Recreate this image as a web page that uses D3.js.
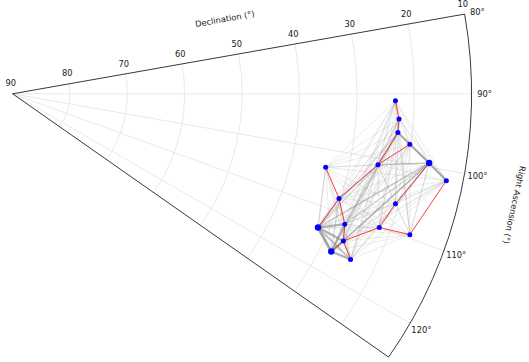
<!DOCTYPE html>
<html>
<head>
<meta charset="utf-8">
<script src="https://cdn.jsdelivr.net/npm/d3@7"></script>
<style>
  html, body { margin: 0; padding: 0; background: #fff; }
  svg { display: block; }
  text { font-family: "DejaVu Sans", sans-serif; fill: #1a1a1a; }
</style>
</head>
<body>
<svg id="chart" width="529" height="362"></svg>
<script>
// Gemini stars: right ascension and declination in degrees
const starNames = ["1 Gem", "Propus", "Tejat", "nu Gem", "Alhena", "Mebsuta", "Alzirr",
  "theta Gem", "tau Gem", "Mekbuda", "Castor", "iota Gem", "Wasat", "upsilon Gem",
  "Pollux", "kappa Gem", "lambda Gem"];
const starRA = [91.03, 93.72, 95.74, 97.24, 99.43, 100.98, 101.32,
  103.20, 107.78, 106.03, 113.65, 111.43, 110.03, 113.98, 116.33, 116.11, 109.52];
const starDec = [23.26, 22.51, 22.51, 20.21, 16.40, 25.13, 12.90,
  33.96, 30.25, 20.57, 31.89, 27.80, 21.98, 26.90, 28.03, 24.40, 16.54];
const starBig = ["Alhena", "Castor", "Pollux"];

// Constellation figure (red)
const figureLines = [
  ["1 Gem", "Propus"], ["Propus", "Tejat"], ["Tejat", "Mebsuta"], ["nu Gem", "Mebsuta"],
  ["Mebsuta", "tau Gem"], ["theta Gem", "tau Gem"], ["tau Gem", "Castor"],
  ["tau Gem", "iota Gem"], ["iota Gem", "upsilon Gem"], ["upsilon Gem", "Pollux"],
  ["upsilon Gem", "kappa Gem"], ["upsilon Gem", "Wasat"], ["Wasat", "Mekbuda"],
  ["Mekbuda", "Alhena"], ["Wasat", "lambda Gem"], ["lambda Gem", "Alzirr"]
];

// Weighted links between stars (grey); any pair not listed gets the base weight
const linkPairs = [
  ["Tejat", "nu Gem"], ["nu Gem", "Alhena"], ["Tejat", "Alhena"], ["Alhena", "Alzirr"],
  ["Alhena", "Mebsuta"], ["Propus", "Tejat"], ["1 Gem", "Propus"], ["Tejat", "Mebsuta"],
  ["Mebsuta", "tau Gem"], ["Castor", "Pollux"], ["Castor", "iota Gem"], ["Castor", "upsilon Gem"],
  ["Castor", "kappa Gem"], ["Pollux", "upsilon Gem"], ["Pollux", "kappa Gem"], ["Pollux", "iota Gem"],
  ["iota Gem", "upsilon Gem"], ["upsilon Gem", "kappa Gem"], ["Castor", "Alhena"], ["Pollux", "Alhena"],
  ["Castor", "theta Gem"], ["Castor", "Mebsuta"], ["Pollux", "Mebsuta"], ["Castor", "Tejat"],
  ["Pollux", "Tejat"], ["Castor", "tau Gem"], ["Alhena", "Mekbuda"], ["Alhena", "Wasat"],
  ["Alhena", "lambda Gem"], ["iota Gem", "Alhena"], ["upsilon Gem", "Alhena"], ["Pollux", "tau Gem"]
];
const linkWeights = [2.2, 2.2, 1.5, 2.5, 1.5, 1.5, 1.0, 1.5, 1.3, 3.0, 2.5, 2.5,
  2.0, 2.5, 2.5, 2.0, 1.5, 1.5, 1.6, 1.6, 1.2, 1.2, 1.2, 1.0,
  1.0, 1.4, 1.2, 1.0, 1.0, 1.2, 1.2, 1.2];
const baseWeight = 0.6;

const rTicks = [90, 80, 70, 60, 50, 40, 30, 20, 10];
const thetaTicks = [80, 90, 100, 110, 120];
const thetaMin = 80, thetaMax = 125;

// Geometry of the polar wedge
const cx = 12.6, cy = 93.8, R = 459;
const rScale = d3.scaleLinear().domain([90, 10]).range([0, R]);
// screen angle, clockwise from east, in radians
const tScale = d3.scaleLinear().domain([90, 180]).range([0, Math.PI / 2]);
const pos = (ra, dec) => {
  const a = tScale(ra), r = rScale(dec);
  return [cx + r * Math.cos(a), cy + r * Math.sin(a)];
};

const svg = d3.select("#chart");
const g = svg.append("g");

// grid: declination arcs
rTicks.filter(d => d > 10 && d < 90).forEach(d => {
  const p = d3.path();
  const a0 = tScale(thetaMin), a1 = tScale(thetaMax), r = rScale(d);
  p.moveTo(cx + r * Math.cos(a0), cy + r * Math.sin(a0));
  p.arc(cx, cy, r, a0, a1);
  g.append("path").attr("d", p.toString())
    .attr("fill", "none").attr("stroke", "#e3e3e3").attr("stroke-width", 0.8);
});
// grid: right ascension spokes
thetaTicks.filter(t => t > thetaMin && t < thetaMax).forEach(t => {
  const a = tScale(t);
  g.append("line")
    .attr("x1", cx).attr("y1", cy)
    .attr("x2", cx + R * Math.cos(a)).attr("y2", cy + R * Math.sin(a))
    .attr("stroke", "#e3e3e3").attr("stroke-width", 0.8);
});

// links
const idx = Object.fromEntries(starNames.map((n, i) => [n, i]));
const weightOf = new Map();
linkPairs.forEach((p, i) => {
  weightOf.set([idx[p[0]], idx[p[1]]].sort((a, b) => a - b).join("-"), linkWeights[i]);
});
const links = [];
for (let i = 0; i < starNames.length; i++) {
  for (let j = i + 1; j < starNames.length; j++) {
    const w = weightOf.get(i + "-" + j);
    links.push({ s: i, t: j, w: w === undefined ? baseWeight : w });
  }
}
links.sort((a, b) => a.w - b.w);
const widthScale = d3.scaleLinear().domain([0.6, 3]).range([0.7, 2.7]);
const alphaScale = d3.scaleLinear().domain([0.6, 3]).range([0.25, 0.78]);

g.append("g").selectAll("line").data(links).join("line")
  .attr("x1", d => pos(starRA[d.s], starDec[d.s])[0])
  .attr("y1", d => pos(starRA[d.s], starDec[d.s])[1])
  .attr("x2", d => pos(starRA[d.t], starDec[d.t])[0])
  .attr("y2", d => pos(starRA[d.t], starDec[d.t])[1])
  .attr("stroke", "#8c8c8c")
  .attr("stroke-opacity", d => alphaScale(d.w))
  .attr("stroke-width", d => widthScale(d.w))
  .attr("stroke-linecap", "round");

g.append("g").selectAll("line").data(figureLines).join("line")
  .attr("x1", d => pos(starRA[idx[d[0]]], starDec[idx[d[0]]])[0])
  .attr("y1", d => pos(starRA[idx[d[0]]], starDec[idx[d[0]]])[1])
  .attr("x2", d => pos(starRA[idx[d[1]]], starDec[idx[d[1]]])[0])
  .attr("y2", d => pos(starRA[idx[d[1]]], starDec[idx[d[1]]])[1])
  .attr("stroke", "#ff0000").attr("stroke-opacity", 0.8).attr("stroke-width", 0.9);

// stars
g.append("g").selectAll("circle").data(starNames).join("circle")
  .attr("cx", (d, i) => pos(starRA[i], starDec[i])[0])
  .attr("cy", (d, i) => pos(starRA[i], starDec[i])[1])
  .attr("r", d => starBig.includes(d) ? 3.2 : 2.5)
  .attr("fill", "#0000ff");

// wedge outline
const wedge = d3.arc().innerRadius(0).outerRadius(R)
  .startAngle(tScale(thetaMin) + Math.PI / 2)
  .endAngle(tScale(thetaMax) + Math.PI / 2);
g.append("path").attr("transform", `translate(${cx},${cy})`)
  .attr("d", wedge()).attr("fill", "none").attr("stroke", "#222").attr("stroke-width", 0.9);

// right ascension tick labels
const fs = 8.3;
thetaTicks.forEach(t => {
  const a = tScale(t), r = R + 13;
  g.append("text")
    .attr("x", cx + r * Math.cos(a)).attr("y", cy + r * Math.sin(a))
    .attr("text-anchor", "middle").attr("dominant-baseline", "central")
    .attr("font-size", fs).text(t + "°");
});

// declination tick labels along the upper edge
const a0 = tScale(thetaMin);
const nx = Math.sin(a0), ny = -Math.cos(a0);
rTicks.forEach(d => {
  const r = rScale(d);
  g.append("text")
    .attr("x", cx + r * Math.cos(a0) + nx * 10.5)
    .attr("y", cy + r * Math.sin(a0) + ny * 10.5)
    .attr("text-anchor", "middle").attr("dominant-baseline", "central")
    .attr("font-size", fs).text(d);
});

// axis titles
{
  const r = 222;
  const x = cx + r * Math.cos(a0) + nx * 37, y = cy + r * Math.sin(a0) + ny * 37;
  g.append("text").attr("transform", `translate(${x},${y}) rotate(${a0 * 180 / Math.PI})`)
    .attr("text-anchor", "middle").attr("dominant-baseline", "central")
    .attr("font-size", fs).text("Declination (°)");
}
{
  const am = tScale((thetaMin + thetaMax) / 2), r = 514;
  const x = cx + r * Math.cos(am), y = cy + r * Math.sin(am);
  g.append("text").attr("transform", `translate(${x},${y}) rotate(${am * 180 / Math.PI + 90})`)
    .attr("text-anchor", "middle").attr("dominant-baseline", "central")
    .attr("font-size", fs).text("Right Ascension (°)");
}
</script>
</body>
</html>
